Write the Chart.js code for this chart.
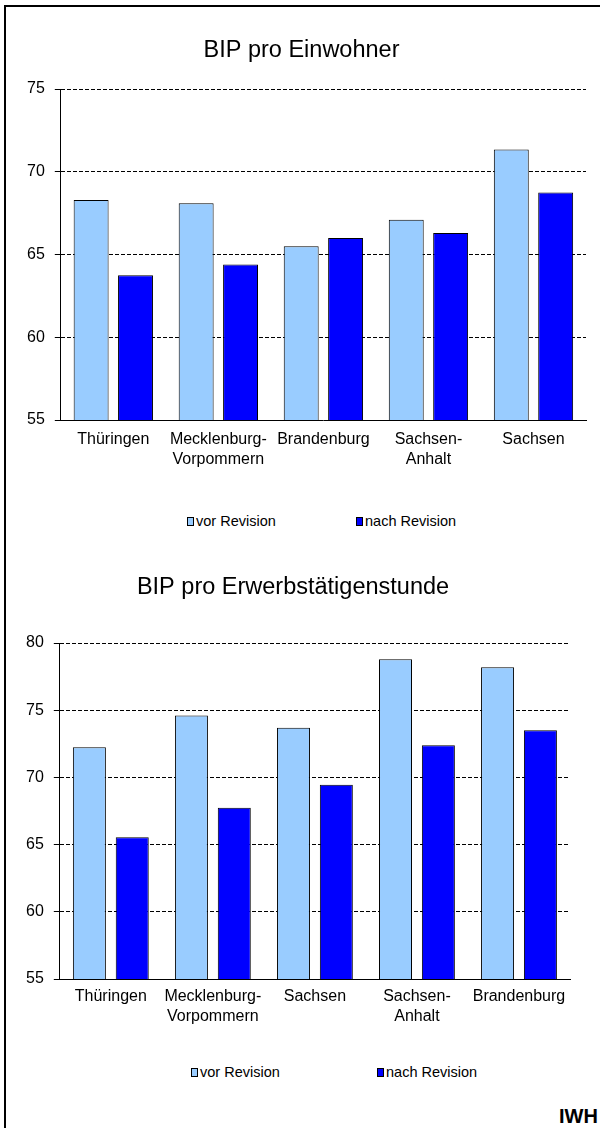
<!DOCTYPE html>
<html>
<head>
<meta charset="utf-8">
<script src="https://cdn.jsdelivr.net/npm/chart.js@4.4.0/dist/chart.umd.min.js"></script>
<style>
  html, body { margin: 0; padding: 0; background: #fff; }
  body { width: 600px; height: 1128px; position: relative; overflow: hidden; font-family: "Liberation Sans", Arial, sans-serif; color: #000; }
  .frame { position: absolute; left: 4px; top: 5px; width: 700px; height: 1200px; border-left: 2px solid #000; border-top: 2px solid #000; }
  .chartBox { position: absolute; left: 5px; width: 600px; }
  #box1 { top: 0; height: 480px; }
  #box2 { top: 540px; height: 495px; }
  .legendItem { position: absolute; white-space: nowrap; display: flex; align-items: center; font-size: 14.5px; line-height: 18px; height: 18px; }
  .legendItem i { display: inline-block; width: 5px; height: 7px; border: 1px solid #000; margin-right: 2px; }
  #iwh { position: absolute; left: 559px; top: 1106px; font-size: 20px; font-weight: bold; line-height: 1; }
</style>
</head>
<body>
<div class="frame"></div>
<div class="chartBox" id="box1"><canvas id="einwohner" width="600" height="480"></canvas></div>
<div class="chartBox" id="box2"><canvas id="stunde" width="600" height="495"></canvas></div>
<div id="iwh">IWH</div>

<script>
const seriesNames = ['vor Revision', 'nach Revision'];
const seriesColors = ['#99CCFF', '#0000FF'];

// BIP pro Einwohner
const einwohnerLabels = ['Thüringen', ['Mecklenburg-', 'Vorpommern'], 'Brandenburg', ['Sachsen-', 'Anhalt'], 'Sachsen'];
const einwohnerVor = [68.3, 68.1, 65.5, 67.1, 71.35];
const einwohnerNach = [63.75, 64.4, 66.0, 66.3, 68.75];
const einwohnerRange = [55, 75];

// BIP pro Erwerbstätigenstunde
const stundeLabels = ['Thüringen', ['Mecklenburg-', 'Vorpommern'], 'Sachsen', ['Sachsen-', 'Anhalt'], 'Brandenburg'];
const stundeVor = [72.25, 74.6, 73.7, 78.8, 78.2];
const stundeNach = [65.55, 67.75, 69.45, 72.4, 73.5];
const stundeRange = [55, 80];

Chart.defaults.font.family = '"Liberation Sans", Arial, sans-serif';
Chart.defaults.color = '#000';

function makeChart(id, title, labels, vor, nach, range, cfg) {
    let ctx = document.getElementById(id).getContext('2d');
    let chart = new Chart(ctx, {
        type: 'bar',
        data: {
            labels: labels,
            datasets: [vor, nach].map((values, i) => {
                return {
                    label: seriesNames[i],
                    data: values,
                    backgroundColor: seriesColors[i],
                    borderColor: '#000',
                    borderWidth: 1,
                    categoryPercentage: cfg.cp,
                    barPercentage: cfg.bp
                }
            })
        },
        options: {
            animation: false,
            responsive: false,
            layout: {
                padding: { left: cfg.left, right: cfg.right, top: 0, bottom: 0 }
            },
            scales: {
                x: {
                    z: 1,
                    grid: { display: false, drawTicks: false },
                    border: { display: true, color: '#000', width: 1 },
                    ticks: {
                        font: { size: 16, lineHeight: 1.25 },
                        padding: cfg.xPad,
                        maxRotation: 0,
                        autoSkip: false
                    }
                },
                y: {
                    min: range[0],
                    max: range[1],
                    grid: { color: '#000', lineWidth: 1, tickLength: 6, tickColor: '#000', tickBorderDash: [] },
                    border: { display: true, color: '#000', width: 1, dash: [4, 2] },
                    ticks: { stepSize: 5, font: { size: 16 }, padding: 10 }
                }
            },
            plugins: {
                legend: { display: false },
                tooltip: { enabled: false },
                title: {
                    display: true,
                    text: title,
                    color: '#000',
                    font: { size: 23.5, weight: 'normal' },
                    padding: { top: cfg.titleTop, bottom: cfg.titleBottom }
                }
            }
        }
    });

    // html legend built from the datasets
    chart.data.datasets.forEach((ds, i) => {
        let item = document.createElement('div');
        item.className = 'legendItem';
        item.style.left = cfg.legendX[i] + 'px';
        item.style.top = (cfg.legendY - 9) + 'px';
        let box = document.createElement('i');
        box.style.background = ds.backgroundColor;
        item.appendChild(box);
        item.appendChild(document.createTextNode(ds.label));
        document.body.appendChild(item);
    });
    return chart;
}

makeChart('einwohner', 'BIP pro Einwohner', einwohnerLabels, einwohnerVor, einwohnerNach, einwohnerRange, {
    left: 12, right: 19, titleTop: 36, titleBottom: 24.8, xPad: 10, cp: 0.845, bp: 0.787,
    legendX: [187, 356], legendY: 521
});

makeChart('stunde', 'BIP pro Erwerbstätigenstunde', stundeLabels, stundeVor, stundeNach, stundeRange, {
    left: 11, right: 35, titleTop: 33.9, titleBottom: 40.9, xPad: 8, cp: 0.84, bp: 0.77,
    legendX: [191, 377], legendY: 1072
});
</script>
</body>
</html>
